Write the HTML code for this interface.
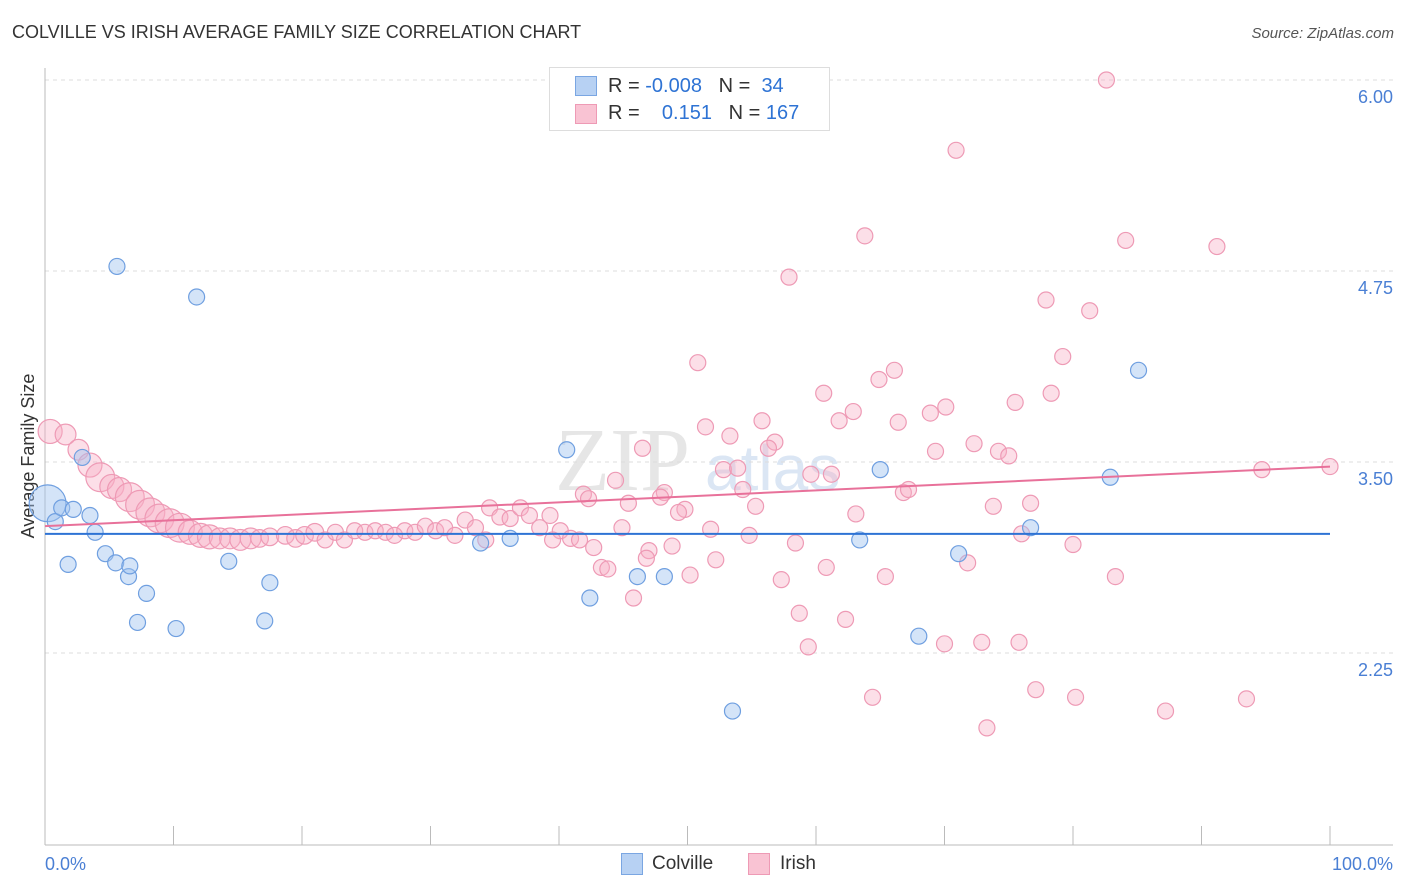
<!DOCTYPE html>
<html><head><meta charset="utf-8"><style>
body{margin:0;background:#fff;font-family:"Liberation Sans",sans-serif;}
#wrap{position:relative;width:1406px;height:892px;overflow:hidden;}
.t{position:absolute;white-space:nowrap;}
</style></head><body>
<div id="wrap">
<div class="t" style="left:12px;top:22px;font-size:18px;color:#333;">COLVILLE VS IRISH AVERAGE FAMILY SIZE CORRELATION CHART</div>
<div class="t" style="right:12px;top:25px;font-size:15px;color:#555;font-style:italic;">Source: ZipAtlas.com</div>
<svg id="chart" width="1406" height="892" style="position:absolute;left:0;top:0"></svg>
</div>
<script>
const yTicks=[6.00,4.75,3.50,2.25];
const yTickLabels=["6.00","4.75","3.50","2.25"];
const colvilleX=[0.2,0.8,1.3,2.2,3.5,3.9,1.8,2.9,4.7,5.5,5.6,6.5,6.6,7.2,7.9,10.2,11.8,14.3,17.1,17.5,33.9,36.2,40.6,42.4,46.1,48.2,53.5,63.4,65.0,68.0,71.1,76.7,82.9,85.1];
const colvilleY=[3.23,3.11,3.20,3.19,3.15,3.04,2.83,3.53,2.90,2.84,4.78,2.75,2.82,2.45,2.64,2.41,4.58,2.85,2.46,2.71,2.97,3.00,3.58,2.61,2.75,2.75,1.87,2.99,3.45,2.36,2.90,3.07,3.40,4.10];
const colvilleW=[2.3,1,1,1,1,1,1,1,1,1,1,1,1,1,1,1,1,1,1,1,1,1,1,1,1,1,1,1,1,1,1,1,1,1];
const irishX=[0.4,1.6,2.6,3.5,4.3,5.2,5.8,6.6,7.4,8.2,8.9,9.7,10.5,11.3,12.1,12.8,13.6,14.4,15.2,16.0,16.7,17.5,18.7,19.5,20.2,21.0,21.8,22.6,23.3,24.1,24.9,25.7,26.5,27.2,28.0,28.8,29.6,30.4,31.1,31.9,32.7,33.5,34.6,35.4,36.2,37.0,37.7,38.5,39.3,40.1,40.9,34.3,41.6,39.5,
82.6,70.9,63.8,84.1,91.2,57.9,77.9,81.3,50.8,79.2,66.1,64.9,60.6,78.3,70.1,62.9,75.5,68.9,66.4,61.8,55.8,51.4,53.3,56.8,46.5,72.3,74.2,69.3,75.0,56.3,52.8,53.9,59.6,61.2,94.7,100,44.4,41.9,42.3,45.4,48.2,47.9,54.3,55.3,66.8,67.2,49.8,49.3,63.1,73.8,76.7,44.9,51.8,54.8,58.4,42.7,47.0,48.8,76.0,80.0,52.2,43.3,43.8,46.8,60.8,71.8,50.2,57.3,65.4,83.3,45.8,58.7,62.3,59.4,70.0,72.9,75.8,64.4,77.1,80.2,87.2,93.5,73.3];
const irishY=[3.70,3.68,3.58,3.48,3.40,3.34,3.32,3.27,3.22,3.17,3.13,3.10,3.07,3.04,3.02,3.01,3.00,3.00,2.99,3.00,3.00,3.01,3.02,3.00,3.02,3.04,2.99,3.04,2.99,3.05,3.04,3.05,3.04,3.02,3.05,3.04,3.08,3.05,3.07,3.02,3.12,3.07,3.20,3.14,3.13,3.20,3.15,3.07,3.15,3.05,3.00,2.99,2.99,2.99,
6.00,5.54,4.98,4.95,4.91,4.71,4.56,4.49,4.15,4.19,4.10,4.04,3.95,3.95,3.86,3.83,3.89,3.82,3.76,3.77,3.77,3.73,3.67,3.63,3.59,3.62,3.57,3.57,3.54,3.59,3.45,3.46,3.42,3.42,3.45,3.47,3.38,3.29,3.26,3.23,3.30,3.27,3.32,3.21,3.30,3.32,3.19,3.17,3.16,3.21,3.23,3.07,3.06,3.02,2.97,2.94,2.92,2.95,3.03,2.96,2.86,2.81,2.80,2.87,2.81,2.84,2.76,2.73,2.75,2.75,2.61,2.51,2.47,2.29,2.31,2.32,2.32,1.96,2.01,1.96,1.87,1.95,1.76];
const irishW=[1.5,1.3,1.3,1.5,1.8,1.5,1.5,1.8,1.8,1.8,1.8,1.8,1.8,1.5,1.5,1.5,1.3,1.3,1.3,1.3,1.1,1.1,1.1,1.1,1.1,1.1,1,1,1,1,1,1,1,1,1,1,1,1,1,1,1,1,1,1,1,1,1,1,1,1,1,1,1,1];
const colvilleTrend=[3.03,3.03];
const irishTrend=[3.08,3.47];

const svg=document.getElementById('chart');
const NS='http://www.w3.org/2000/svg';
const X0=45,X1=1330,Y0=462,PPU=152.8;
const sx=v=>X0+(X1-X0)*v/100;
const sy=v=>Y0-(v-3.5)*PPU;
function mk(tag,attrs){const e=document.createElementNS(NS,tag);for(const k in attrs)e.setAttribute(k,attrs[k]);svg.appendChild(e);return e;}

let wm=mk('text',{x:555,y:490,'font-size':'90','font-family':'Liberation Serif,serif',fill:'#e6e6e6'});
wm.textContent='ZIP';


let wm2=mk('text',{x:705,y:490,'font-size':'64','font-family':'Liberation Sans,sans-serif',fill:'#dbe6f4'});
wm2.textContent='atlas';



yTicks.forEach((v,i)=>{
 const g=mk('line',{x1:45,x2:1393,y1:sy(v),y2:sy(v),stroke:'#dcdcdc','stroke-dasharray':'4,4'});
 
 
 const t=mk('text',{x:1393,y:sy(v)+23,'text-anchor':'end','font-size':'18',fill:'#4a7fd4','font-family':'Liberation Sans,sans-serif'});
 t.textContent=yTickLabels[i];
 
 
});
let ax=mk('line',{x1:45,x2:1393,y1:845,y2:845,stroke:'#bbb'});


let ay=mk('line',{x1:45,x2:45,y1:68,y2:845,stroke:'#bbb'});


for(let i=0;i<=10;i++){
 const tk=mk('line',{x1:sx(i*10),x2:sx(i*10),y1:826,y2:845,stroke:'#bbb'});
 
 
}
const xl=[['0.0%',45,'start'],['100.0%',1393,'end']];
xl.forEach(a=>{const t=mk('text',{x:a[1],y:870,'text-anchor':a[2],'font-size':'18',fill:'#4a7fd4','font-family':'Liberation Sans,sans-serif'});t.textContent=a[0];

});
let yt=mk('text',{x:34,y:456,transform:'rotate(-90 34 456)','text-anchor':'middle','font-size':'18',fill:'#333','font-family':'Liberation Sans,sans-serif'});
yt.textContent='Average Family Size';



irishX.forEach((x,i)=>{
 const w=irishW[i]||1;
 const c=mk('circle',{cx:sx(x),cy:sy(irishY[i]),r:8*w,fill:'rgba(247,176,198,0.4)',stroke:'#ee9ab5','stroke-width':1.2});
 
 
});
colvilleX.forEach((x,i)=>{
 const c=mk('circle',{cx:sx(x),cy:sy(colvilleY[i]),r:8*colvilleW[i],fill:'rgba(160,196,240,0.45)',stroke:'#6f9fe0','stroke-width':1.2});
 
 
});
let tb=mk('line',{x1:sx(0),x2:sx(100),y1:sy(colvilleTrend[0]),y2:sy(colvilleTrend[1]),stroke:'#2e73d4','stroke-width':2});


let tp=mk('line',{x1:sx(0),x2:sx(100),y1:sy(irishTrend[0]),y2:sy(irishTrend[1]),stroke:'#e8719a','stroke-width':2});


</script>
<div class="t" style="left:549px;top:67px;width:279px;height:62px;border:1px solid #ddd;background:#fff;font-size:20px;">
 <div class="t" style="left:25px;top:8px;width:20px;height:18px;background:#b7d1f3;border:1px solid #7aa6e2;"></div>
 <div class="t" style="left:58px;top:7px;color:#333;">R = <span style="color:#2e73d4">-0.008</span>&nbsp;&nbsp;&nbsp;N = &nbsp;<span style="color:#2e73d4">34</span></div>
 <div class="t" style="left:25px;top:36px;width:20px;height:18px;background:#f9c3d3;border:1px solid #ee9ab5;"></div>
 <div class="t" style="left:58px;top:34px;color:#333;">R = &nbsp;&nbsp;&nbsp;<span style="color:#2e73d4">0.151</span>&nbsp;&nbsp;&nbsp;N = <span style="color:#2e73d4">167</span></div>
</div>
<div class="t" style="left:621px;top:853px;width:20px;height:20px;background:#b7d1f3;border:1px solid #7aa6e2;"></div>
<div class="t" style="left:652px;top:853px;font-size:19px;color:#333;">Colville</div>
<div class="t" style="left:748px;top:853px;width:20px;height:20px;background:#f9c3d3;border:1px solid #ee9ab5;"></div>
<div class="t" style="left:780px;top:853px;font-size:19px;color:#333;">Irish</div>
</body></html>
